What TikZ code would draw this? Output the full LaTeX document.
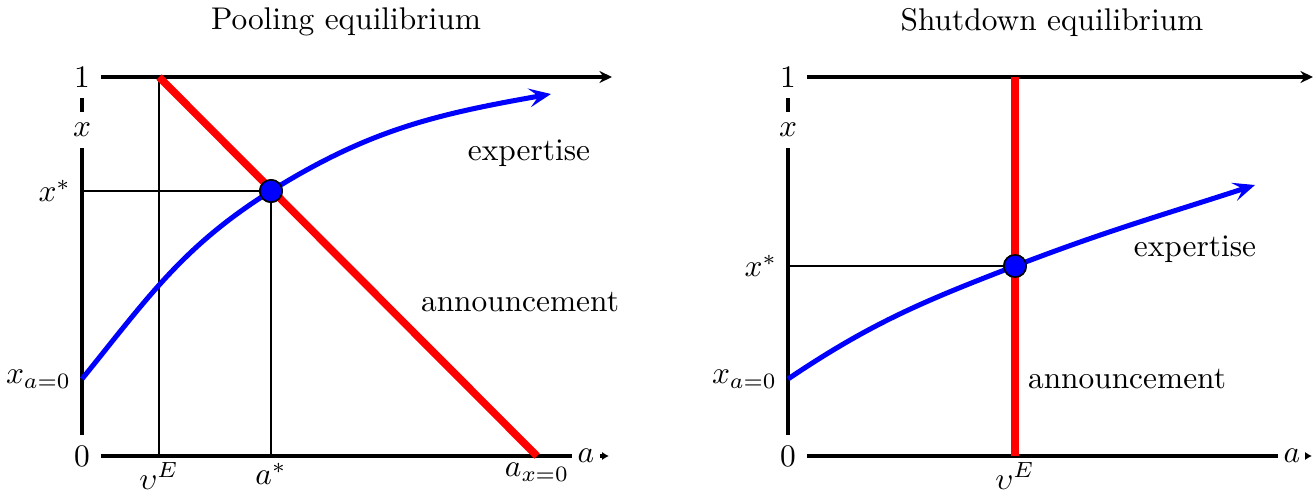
\documentclass[tikz,border=0pt]{standalone}
\usepackage{amsmath}
\usetikzlibrary{arrows.meta,positioning}
\begin{document}
\begin{tikzpicture}[x=0.0112cm, y=0.0112cm,
        axis/.style={draw=black, line width=1pt},
        guide/.style={draw=black, line width=0.5pt},
        announce/.style={draw=red, line width=2.4pt},
        expert/.style={draw=blue, line width=1.6pt, -{Stealth[length=7pt, width=6pt, inset=3pt]}},
        eq/.style={circle, fill=blue, draw=black, line width=0.5pt, inner sep=0pt, minimum size=0.25cm},
        tick/.style={below, inner sep=2pt},
        alabel/.style={inner sep=1.5pt}
    ]
        \useasboundingbox (0,0) rectangle (1313,492);

        % Pooling equilibrium
        \node (title1) at (346,470) {Pooling equilibrium};
        \node (zero1) at (82,36) {$0$};
        \node (one1) at (82,415) {$1$};
        \node (xl1) at (82,362) {$x$};
        \node[alabel] (al1) at (586,36) {$a$};
        \coordinate (aend1) at (609,36);
        \coordinate (top1) at (159,415);
        \draw[axis] (zero1) -- (xl1) -- (one1);
        \draw[axis] (zero1) -- (al1);
        \draw[axis, -{Latex[length=2.2pt, width=2.6pt]}] (al1) -- (aend1);
        \draw[axis, -{Stealth[length=4pt, width=3.8pt, inset=1.3pt]}] (one1) -- (612,415);
        \node[tick] (ve1) at (159,36) {$\upsilon^E$};
        \node[tick] (as1) at (271,36) {$a^*$};
        \node[tick] (ax1) at (537,36) {$a_{x=0}$};
        \node[left] (xs1) at (82,301) {$x^*$};
        \node[left] (xa1) at (82,113) {$x_{a=0}$};
        \node[eq] (eq1) at (271,301) {};
        \draw[guide] (ve1.north) -- (top1);
        \draw[guide] (as1.north) -- (eq1.center);
        \draw[guide] (xs1.east) -- (eq1.center);
        \draw[announce] (top1) -- (ax1.north);
        \draw[expert] (xa1.east) to[out=51, in=212] (eq1.center) to[out=32, in=190] (551,398);
        \node[eq] at (eq1) {};
        \node (exp1) at (529,339) {expertise};
        \node (ann1) at (520,190) {announcement};

        % Shutdown equilibrium
        \node (title2) at (1052,470) {Shutdown equilibrium};
        \node (zero2) at (788,36) {$0$};
        \node (one2) at (788,415) {$1$};
        \node (xl2) at (788,362) {$x$};
        \node[alabel] (al2) at (1292,36) {$a$};
        \coordinate (aend2) at (1312,36);
        \coordinate (top2) at (1015,415);
        \draw[axis] (zero2) -- (xl2) -- (one2);
        \draw[axis] (zero2) -- (al2);
        \draw[axis, -{Latex[length=2.2pt, width=2.6pt]}] (al2) -- (aend2);
        \draw[axis, -{Stealth[length=4pt, width=3.8pt, inset=1.3pt]}] (one2) -- (1313,415);
        \node[tick] (ve2) at (1015,36) {$\upsilon^E$};
        \node[left] (xs2) at (788,226) {$x^*$};
        \node[left] (xa2) at (788,113) {$x_{a=0}$};
        \node[eq] (eq2) at (1015,226) {};
        \draw[guide] (xs2.east) -- (eq2.center);
        \draw[announce] (ve2.north) -- (top2);
        \draw[expert] (xa2.east) to[out=34, in=201] (eq2.center) to[out=21, in=198] (1255,307);
        \node[eq] at (eq2) {};
        \node (exp2) at (1195,243) {expertise};
        \node (ann2) at (1127,113) {announcement};
    \end{tikzpicture}
\end{document}
